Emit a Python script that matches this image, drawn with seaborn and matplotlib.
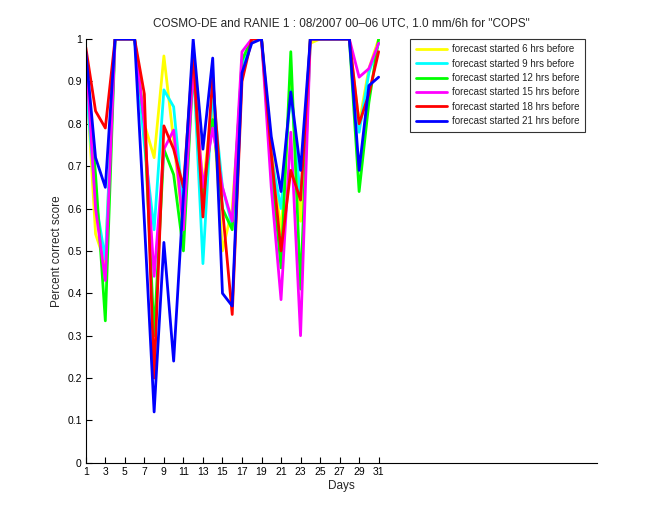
import numpy as np
import pandas as pd
import matplotlib
matplotlib.use("Agg")
import matplotlib.pyplot as plt
import seaborn as sns

days = list(range(1, 32))
series_names = ["forecast started 6 hrs before", "forecast started 9 hrs before",
                "forecast started 12 hrs before", "forecast started 15 hrs before",
                "forecast started 18 hrs before", "forecast started 21 hrs before"]

h06 = [0.93, 0.54, 0.47, 1, 1, 1, 0.80, 0.72, 0.96, 0.76, 0.55, 0.95, 0.65, 0.85, 0.50, 0.60,
       0.92, 1, 1, 0.75, 0.54, 0.90, 0.57, 0.99, 1, 1, 1, 1, 0.80, 0.93, 1.0]
h09 = [0.90, 0.62, 0.48, 1, 1, 1, 0.75, 0.55, 0.88, 0.84, 0.60, 0.95, 0.47, 0.88, 0.65, 0.56,
       0.94, 1, 1, 0.72, 0.60, 0.88, 0.62, 1, 1, 1, 1, 1, 0.78, 0.92, 0.99]
h12 = [0.95, 0.68, 0.335, 1, 1, 1, 0.80, 0.30, 0.74, 0.68, 0.50, 0.93, 0.62, 0.81, 0.60, 0.55,
       0.95, 1, 1, 0.70, 0.46, 0.97, 0.41, 1, 1, 1, 1, 1, 0.64, 0.85, 1.0]
h15 = [0.97, 0.60, 0.43, 1, 1, 1, 0.80, 0.44, 0.74, 0.785, 0.55, 0.93, 0.65, 0.79, 0.65, 0.57,
       0.97, 1, 1, 0.65, 0.385, 0.78, 0.30, 1, 1, 1, 1, 1, 0.91, 0.93, 0.99]
h18 = [0.98, 0.83, 0.79, 1, 1, 1, 0.87, 0.20, 0.795, 0.74, 0.65, 0.97, 0.58, 0.91, 0.60, 0.35,
       0.90, 1, 1, 0.73, 0.50, 0.69, 0.62, 1, 1, 1, 1, 1, 0.80, 0.87, 0.97]
h21 = [0.97, 0.72, 0.65, 1, 1, 1, 0.57, 0.12, 0.52, 0.24, 0.63, 1.0, 0.74, 0.955, 0.40, 0.37,
       0.92, 0.99, 1, 0.77, 0.64, 0.875, 0.69, 1, 1, 1, 1, 1, 0.69, 0.89, 0.91]

all_vals = [h06, h09, h12, h15, h18, h21]
df = pd.concat([pd.DataFrame({"Days": days, "score": v, "series": n})
                for n, v in zip(series_names, all_vals)], ignore_index=True)

colors = ["#ffff00", "#00ffff", "#00ff00", "#ff00ff", "#ff0000", "#0000ff"]

sns.set_style("white")
plt.rcParams["font.family"] = ["Liberation Sans", "DejaVu Sans"]

fig = plt.figure(figsize=(6.6, 5.2), dpi=100)
ax = fig.add_axes([0.130, 0.110, 0.775, 0.815])

sns.lineplot(data=df, x="Days", y="score", hue="series", palette=colors,
             hue_order=series_names, linewidth=2, ax=ax, estimator=None, sort=False)

ax.set_xlim(1, 53.4)
ax.set_ylim(0, 1)
ax.set_xticks(list(range(1, 32, 2)))
ax.set_yticks([i / 10 for i in range(11)])
ax.set_yticklabels(["0", "0.1", "0.2", "0.3", "0.4", "0.5", "0.6", "0.7", "0.8", "0.9", "1"])
ax.tick_params(direction="in", length=4, width=0.8, labelsize=7.5, pad=3,
               bottom=True, left=True, colors="black")
for s in ["top", "right"]:
    ax.spines[s].set_visible(False)
for s in ["left", "bottom"]:
    ax.spines[s].set_color("black")
    ax.spines[s].set_linewidth(0.8)

ax.set_xlabel("Days", fontsize=8.5, labelpad=2)
ax.set_ylabel("Percent correct score", fontsize=8.5, labelpad=3)
ax.set_title('COSMO-DE and RANIE 1 : 08/2007 00\u201306 UTC, 1.0 mm/6h for "COPS"',
             fontsize=8.5, pad=9)

leg = ax.legend(loc="upper right", bbox_to_anchor=(0.975, 1.0), fontsize=7,
                frameon=True, fancybox=False, edgecolor="black", handlelength=3.2,
                handletextpad=0.5, labelspacing=0.45, borderpad=0.55, borderaxespad=0)
leg.get_frame().set_linewidth(0.8)
for line in leg.get_lines():
    line.set_linewidth(2)

fig.savefig("out.png", dpi=100)
